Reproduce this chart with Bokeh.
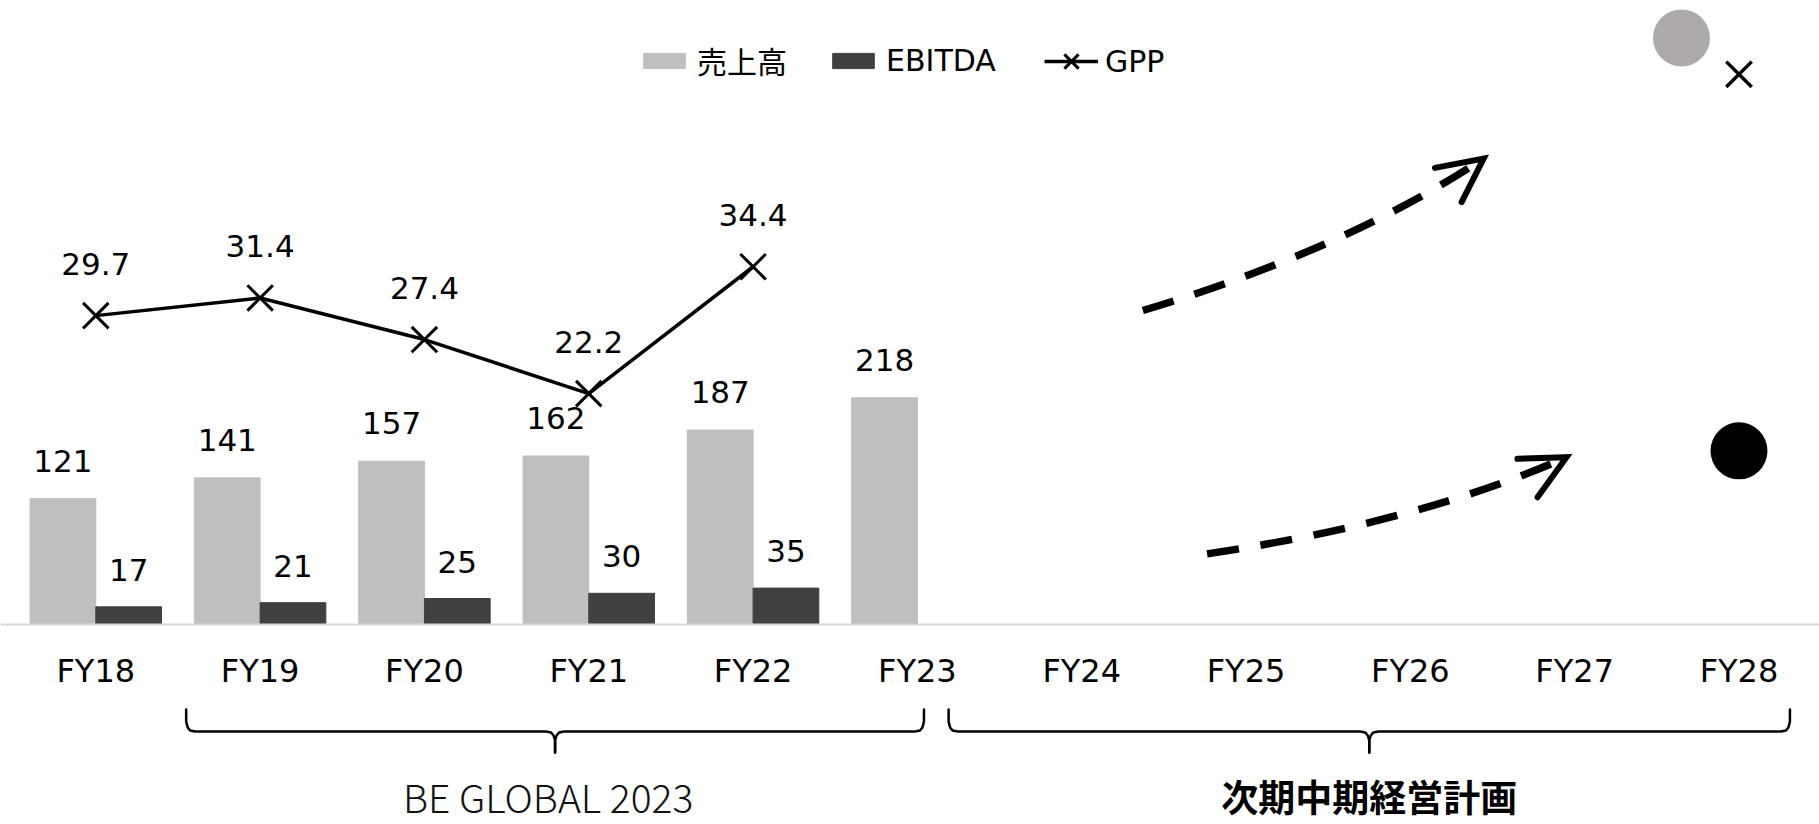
from bokeh.plotting import figure
from bokeh.models import Range1d, FixedTicker, Legend, LegendItem
from bokeh.core.properties import value
from bokeh.embed import file_html
from bokeh.resources import INLINE

# ---- data -------------------------------------------------------------
years = ["FY18", "FY19", "FY20", "FY21", "FY22", "FY23",
         "FY24", "FY25", "FY26", "FY27", "FY28"]
sales = [121, 141, 157, 162, 187, 218]          # 売上高 (FY18-FY23)
ebitda = [17, 21, 25, 30, 35]                   # EBITDA (FY18-FY22)
gpp = [29.7, 31.4, 27.4, 22.2, 34.4]            # GPP (FY18-FY22)

# FY28 targets of the next mid-term plan
target_year = 10
target_sales = 564
target_ebitda = 167
target_gpp = 52.9

# plan periods shown under the axis
groups = ["BE GLOBAL 2023", "次期中期経営計画"]
group_start = [0.55, 5.19]
group_end = [5.04, 10.31]

# dashed growth arrows (start, control, tip) and open arrow-head arms
arrow_x0 = [6.372, 6.763]
arrow_y0 = [301.9, 67.9]
arrow_cx = [7.606, 8.051]
arrow_cy = [360.6, 98.1]
arrow_x1 = [8.446, 8.950]
arrow_y1 = [448.1, 160.9]
head_ax = [8.150, 8.652]
head_ay = [439.1, 159.3]
head_bx = [8.312, 8.774]
head_by = [406.1, 122.4]

# ---- layout -----------------------------------------------------------
W, H = 1819, 824
x_start, x_end = -0.58, 10.49
y_start, y_end = -192.3, 600.0
y2_start, y2_end = -19.23, 60.0
px_x = W / (x_end - x_start)
px_y = H / (y_end - y_start)

LATIN = "DejaVu Sans"
JP = "Noto Sans CJK JP"

p = figure(width=W, height=H,
           x_range=Range1d(x_start, x_end), y_range=Range1d(y_start, y_end),
           output_backend="svg", toolbar_location=None,
           y_axis_location=None, min_border=0,
           outline_line_color=None, background_fill_color="white",
           border_fill_color="white")
p.extra_y_ranges = {"gpp": Range1d(y2_start, y2_end)}
p.xgrid.visible = False
p.ygrid.visible = False

# x axis sits on the zero line
ax = p.xaxis[0]
ax.fixed_location = 0
ax.ticker = FixedTicker(ticks=list(range(len(years))))
ax.major_label_overrides = {i: y for i, y in enumerate(years)}
ax.axis_line_color = "#d9d9d9"
ax.axis_line_width = 2
ax.major_tick_line_color = None
ax.minor_tick_line_color = None
ax.major_label_standoff = 21
ax.major_label_text_font = LATIN
ax.major_label_text_font_size = "32px"
ax.major_label_text_color = "black"

# ---- bars ---------------------------------------------------------------
xs_sales = [i - 0.2 for i in range(len(sales))]
xs_ebitda = [i + 0.2 for i in range(len(ebitda))]
r_sales = p.vbar(x=xs_sales, top=sales, width=0.4, color="#bfbfbf")
r_ebitda = p.vbar(x=xs_ebitda, top=ebitda, width=0.4, color="#404040")

label_kw = dict(text_align="center", text_baseline="alphabetic",
                text_font=value(LATIN), text_font_size="31px",
                text_color="black")
p.text(x=xs_sales, y=sales, text=[str(v) for v in sales], y_offset=-38, **label_kw)
p.text(x=xs_ebitda, y=ebitda, text=[str(v) for v in ebitda], y_offset=-37, **label_kw)

# ---- GPP line (secondary scale) ------------------------------------------
xs_gpp = list(range(len(gpp)))
r_gpp_line = p.line(x=xs_gpp, y=gpp, y_range_name="gpp", line_color="black", line_width=3.5)
r_gpp_pts = p.scatter(x=xs_gpp, y=gpp, y_range_name="gpp", marker="x", size=36,
                      line_color="black", line_width=3)
p.text(x=xs_gpp, y=gpp, y_range_name="gpp", text=[f"{v:.1f}" for v in gpp],
       y_offset=-52, **label_kw)

# ---- FY28 targets --------------------------------------------------------
p.scatter(x=[target_year - 0.35], y=[target_sales], marker="circle", size=57,
          fill_color="#aeaaaa", line_color=None)
p.scatter(x=[target_year], y=[target_ebitda], marker="circle", size=57,
          fill_color="black", line_color=None)
p.scatter(x=[target_year], y=[target_gpp], y_range_name="gpp", marker="x", size=36,
          line_color="black", line_width=3.5)

# ---- dashed arrows --------------------------------------------------------
p.quadratic(x0=arrow_x0, y0=arrow_y0, x1=arrow_x1, y1=arrow_y1,
            cx=arrow_cx, cy=arrow_cy, line_color="black", line_width=7.5,
            line_dash="32 22")
p.multi_line(xs=[[ax_, tx, bx] for ax_, tx, bx in zip(head_ax, arrow_x1, head_bx)],
             ys=[[ay, ty, by] for ay, ty, by in zip(head_ay, arrow_y1, head_by)],
             line_color="black", line_width=6, line_cap="round", line_join="miter")

# ---- braces under the axis ------------------------------------------------
# offsets in screen pixels: (dx, depth below the zero line)
END = [(0, 85), (0, 97), (1.5, 103), (4, 106), (9, 107)]
MID = [(-9, 107), (-4, 108), (-1.5, 111), (0, 116), (0, 128)]


def brace(x0, x1):
    xm = (x0 + x1) / 2
    lx = [x0 + dx / px_x for dx, _ in END] + [xm + dx / px_x for dx, _ in MID]
    ly = [-d / px_y for _, d in END] + [-d / px_y for _, d in MID]
    rx = [x1 - dx / px_x for dx, _ in END] + [xm - dx / px_x for dx, _ in MID]
    return [lx, rx], [ly, ly]


bx_all, by_all = [], []
for s, e in zip(group_start, group_end):
    bxs, bys = brace(s, e)
    bx_all += bxs
    by_all += bys
p.multi_line(xs=bx_all, ys=by_all, line_color="black", line_width=2.5,
             line_cap="round", line_join="round")

group_mid = [(s + e) / 2 for s, e in zip(group_start, group_end)]
p.text(x=group_mid[:1], y=[0], text=groups[:1], y_offset=171, x_offset=-7,
       text_align="center", text_baseline="alphabetic",
       text_font=value("'Noto Sans CJK JP Light', 'Noto Sans CJK JP'"),
       text_font_size="39px", text_color="#111111")
p.text(x=group_mid[1:], y=[0], text=groups[1:], y_offset=171,
       text_align="center", text_baseline="alphabetic",
       text_font=value(JP), text_font_style="bold",
       text_font_size="37px", text_color="black")

# ---- legend -------------------------------------------------------------
legend_kw = dict(orientation="horizontal", label_standoff=7, spacing=40,
                 padding=0, margin=0, border_line_color=None,
                 background_fill_alpha=0,
                 label_text_font="DejaVu Sans, 'Noto Sans CJK JP'",
                 label_text_font_size="30px", label_text_color="black")
bar_legend = Legend(items=[
    LegendItem(label="売上高", renderers=[r_sales]),
    LegendItem(label="EBITDA", renderers=[r_ebitda]),
], location=(638, 742), glyph_width=52, glyph_height=19, **legend_kw)
line_legend = Legend(items=[
    LegendItem(label="GPP", renderers=[r_gpp_line, r_gpp_pts]),
], location=(1044, 738), glyph_width=54, glyph_height=50, **legend_kw)
p.add_layout(bar_legend)
p.add_layout(line_legend)

open("out.html", "w").write(file_html(p, INLINE))
